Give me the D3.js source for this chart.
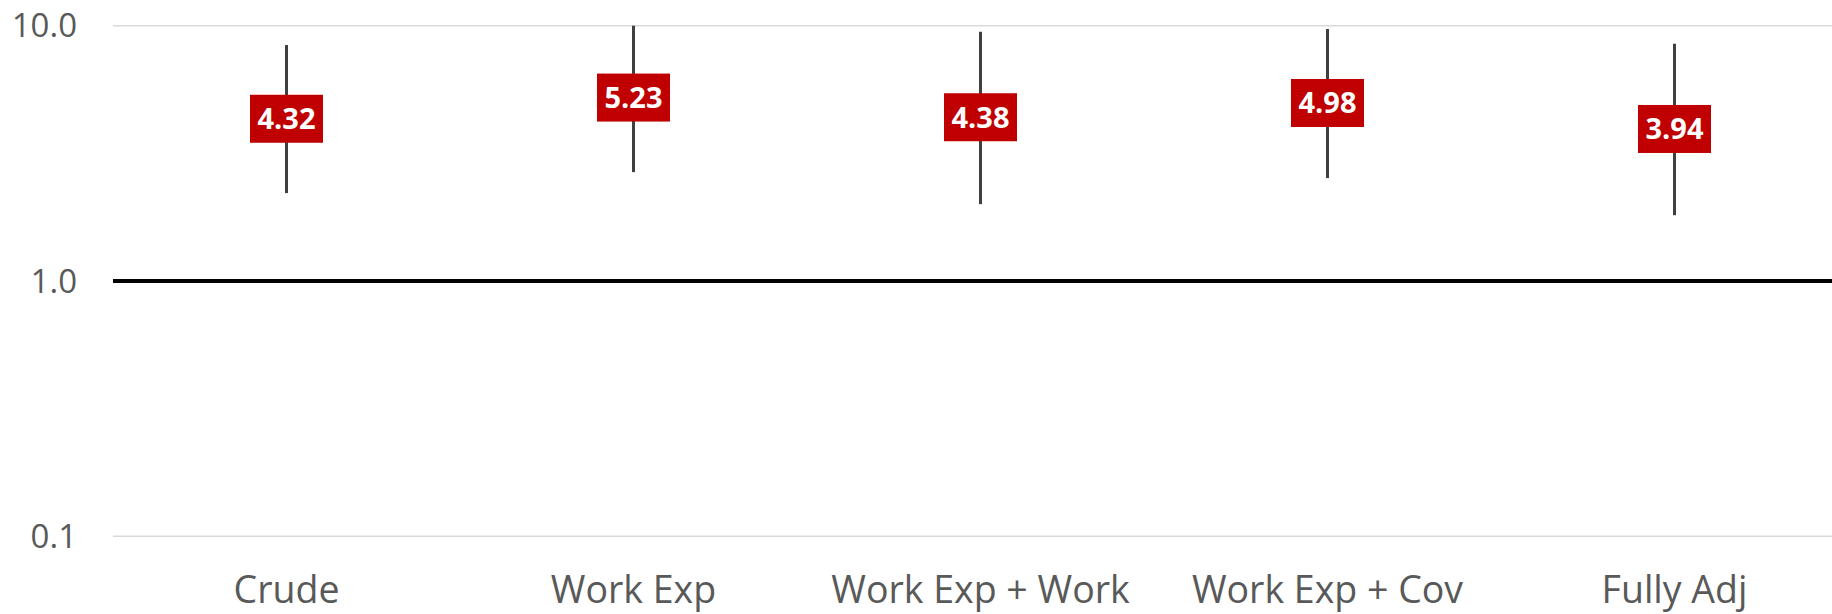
<!DOCTYPE html>
<html>
<head>
<meta charset="utf-8">
<script src="https://cdn.jsdelivr.net/npm/d3@7"></script>
<style>
	body { margin: 0; background: #fff; }
	.ticklabel { font-family: "Open Sans", sans-serif; font-size: 33px; fill: #595959; }
	.catlabel { font-family: "Open Sans", sans-serif; font-size: 37.5px; fill: #595959; }
	.boxlabel { font-family: "Open Sans", sans-serif; font-size: 29px; font-weight: bold; fill: #fff; }
</style>
</head>
<body>
<svg class="chart"></svg>
<script>
// Odds ratios with confidence interval
var categories = ["Crude", "Work Exp", "Work Exp + Work", "Work Exp + Cov", "Fully Adj"];
var estimates = [4.32, 5.23, 4.38, 4.98, 3.94];
var lowerCI = [2.21, 2.67, 2.00, 2.53, 1.81];
var upperCI = [8.40, 10.3, 9.47, 9.71, 8.50];
var yTicks = [0.1, 1, 10];

var width = 1832, height = 614;

var data = categories.map(function(c, i) {
	return {cat: c, est: estimates[i], lo: lowerCI[i], hi: upperCI[i]};
});

var x = d3.scaleBand()
	.domain(categories)
	.range([113, 1848]);

var y = d3.scaleLog()
	.domain([0.1, 10])
	.range([536.3, 25.7])
	.clamp(true);

var chart = d3.select(".chart")
	.attr("width", width)
	.attr("height", height);

// Gridlines (the 1.0 reference line is drawn black and heavy)
chart.selectAll(".grid")
	.data(yTicks)
  .enter().append("line")
	.attr("class", "grid")
	.attr("x1", x.range()[0])
	.attr("x2", width)
	.attr("y1", function(d) { return y(d); })
	.attr("y2", function(d) { return y(d); })
	.attr("stroke", function(d) { return d == 1 ? "#000" : "#d9d9d9"; })
	.attr("stroke-width", function(d) { return d == 1 ? 4 : 1.5; });

// Y tick labels
chart.selectAll(".ticklabel")
	.data(yTicks)
  .enter().append("text")
	.attr("class", "ticklabel")
	.attr("x", 77)
	.attr("y", function(d) { return y(d) + 11.5; })
	.attr("text-anchor", "end")
	.text(function(d) { return d3.format(".1f")(d); });

// Category labels
chart.selectAll(".catlabel")
	.data(categories)
  .enter().append("text")
	.attr("class", "catlabel")
	.attr("x", function(d) { return x(d) + x.bandwidth() / 2; })
	.attr("y", 603)
	.attr("text-anchor", "middle")
	.text(function(d) { return d; });

// Whiskers
chart.selectAll(".whisker")
	.data(data)
  .enter().append("line")
	.attr("class", "whisker")
	.attr("x1", function(d) { return x(d.cat) + x.bandwidth() / 2; })
	.attr("x2", function(d) { return x(d.cat) + x.bandwidth() / 2; })
	.attr("y1", function(d) { return y(d.hi); })
	.attr("y2", function(d) { return y(d.lo); })
	.attr("stroke", "#404040")
	.attr("stroke-width", 3);

// Estimate labels in red boxes
var boxW = 73, boxH = 48;
var marks = chart.selectAll(".mark")
	.data(data)
  .enter().append("g")
	.attr("class", "mark")
	.attr("transform", function(d) {
		return "translate(" + (x(d.cat) + x.bandwidth() / 2) + "," + y(d.est) + ")";
	});

marks.append("rect")
	.attr("x", -boxW / 2)
	.attr("y", -boxH / 2)
	.attr("width", boxW)
	.attr("height", boxH)
	.attr("fill", "#c00000");

marks.append("text")
	.attr("class", "boxlabel")
	.attr("text-anchor", "middle")
	.attr("y", 10.5)
	.text(function(d) { return d3.format(".2f")(d.est); });
</script>
</body>
</html>
